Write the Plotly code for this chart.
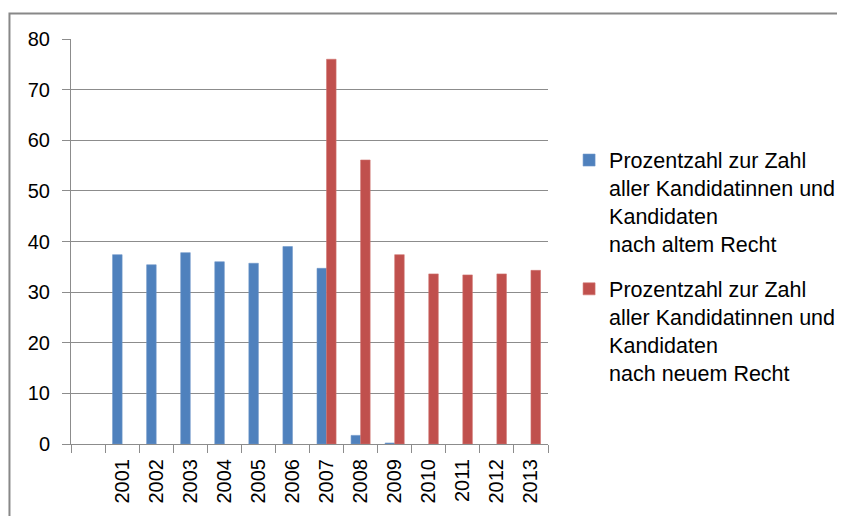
import plotly.graph_objects as go

categories = [" ", "2001", "2002", "2003", "2004", "2005", "2006", "2007",
              "2008", "2009", "2010", "2011", "2012", "2013"]

old_years = ["2001", "2002", "2003", "2004", "2005", "2006", "2007", "2008", "2009"]
old_values = [37.4, 35.4, 37.8, 36.0, 35.7, 39.0, 34.7, 1.7, 0.2]

new_years = ["2007", "2008", "2009", "2010", "2011", "2012", "2013"]
new_values = [76.0, 56.1, 37.4, 33.6, 33.4, 33.6, 34.3]

name_old = "Prozentzahl zur Zahl<br>aller Kandidatinnen und<br>Kandidaten<br>nach altem Recht"
name_new = "Prozentzahl zur Zahl<br>aller Kandidatinnen und<br>Kandidaten<br>nach neuem Recht"

FONT = "Liberation Sans, Arial, sans-serif"
GRID = "#8c8c8c"

fig = go.Figure()
fig.add_trace(go.Bar(x=old_years, y=old_values, name=name_old, legendgroup="a",
                     marker=dict(color="#4F81BD", line=dict(color="#6f97c9", width=0.6))))
fig.add_trace(go.Bar(x=new_years, y=new_values, name=name_new, legendgroup="b",
                     marker=dict(color="#C0504D", line=dict(color="#d07370", width=0.6))))

fig.update_layout(
    width=845, height=516,
    margin=dict(l=63, r=305, t=31, b=80),
    paper_bgcolor="white", plot_bgcolor="white",
    barmode="group", bargap=0.44, bargroupgap=0,
    font=dict(family=FONT, size=20, color="#000000"),
    legend=dict(xref="container", yref="container", x=0.664, y=0.745,
                xanchor="left", yanchor="top", valign="top",
                font=dict(family=FONT, size=21.5, color="#000000"),
                tracegroupgap=14, bgcolor="rgba(0,0,0,0)"),
    showlegend=True,
)

fig.update_xaxes(type="category", categoryorder="array", categoryarray=categories,
                 range=[-0.5, 13.5], tickson="boundaries", ticks="outside",
                 ticklen=8, tickcolor=GRID, tickwidth=1, tickangle=-90,
                 showline=True, linecolor=GRID, linewidth=1, showgrid=False,
                 ticklabelstandoff=6,
                 tickfont=dict(family=FONT, size=20, color="#000000"))
fig.update_yaxes(range=[0, 80], dtick=10, tick0=0, ticks="outside", ticklen=8,
                 tickcolor=GRID, tickwidth=1, showline=True, linecolor=GRID,
                 linewidth=1, showgrid=True, gridcolor=GRID, gridwidth=1,
                 zeroline=False, ticklabelstandoff=8,
                 tickfont=dict(family=FONT, size=20, color="#000000"))

# outer chart frame (partially cropped in the reference)
fig.add_shape(type="rect", xref="paper", yref="paper",
              x0=-0.129, x1=1.7, y0=-0.3, y1=1.063,
              line=dict(color="#888888", width=2), layer="below")

fig.write_html("out.html")
